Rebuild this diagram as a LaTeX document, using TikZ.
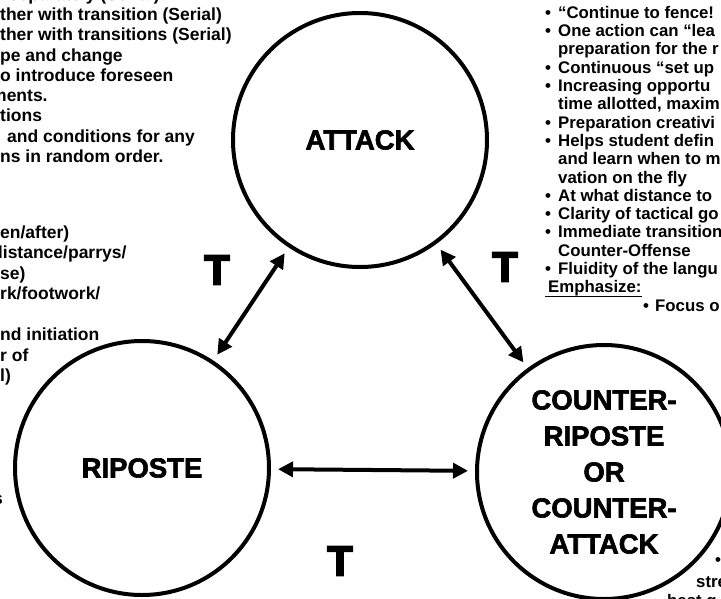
\documentclass[tikz,border=0pt]{standalone}
\usepackage{fontspec}
\setmainfont{Liberation Sans}
\newfontfamily\heavyfont[FakeBold=2.2]{Liberation Sans Bold}
\newfontfamily\tfont[FakeBold=4]{Liberation Sans Bold}
\usetikzlibrary{arrows.meta}
\usetikzlibrary{positioning}
\tikzset{phase node/.style={circle,draw,line width=4pt,minimum size=254pt,inner sep=0pt,align=center,font=\heavyfont\fontsize{27.5}{36}\selectfont}}
\tikzset{trans label/.style={inner sep=0pt,font=\tfont\fontsize{42}{42}\selectfont}}
\tikzset{left note/.style={anchor=base west,inner sep=0pt,font=\bfseries\fontsize{17.5}{20}\selectfont}}
\tikzset{right note/.style={anchor=base west,inner sep=0pt,font=\bfseries\fontsize{16.8}{18}\selectfont}}
\tikzset{link/.style={line width=4pt,{Triangle[length=15pt,width=15pt]}-{Triangle[length=15pt,width=15pt]},shorten <=7pt,shorten >=7pt}}

\begin{document}
\begin{tikzpicture}[x=1pt,y=-1pt]
    \useasboundingbox (0,0) rectangle (721,598);
    \clip (0,0) rectangle (721,598);

    \node[phase node] (attack) at (360,140) {ATTACK};
    \node[phase node] (riposte) at (142,468) {RIPOSTE};
    \node[phase node] (counter) at (604,472) {COUNTER-\\RIPOSTE\\OR\\COUNTER-\\ATTACK};

    \draw[link] (attack) -- (riposte);
    \draw[link] (attack) -- (counter);
    \draw[link] (riposte) -- (counter);

    \node[trans label] (t_{1}) at (217,270) {T};
    \node[trans label] (t_{2}) at (505,267) {T};
    \node[trans label] (t_{3}) at (340,561) {T};

    % left notes, cut off by the page edge
    \node[left note,anchor=base east] (l_{0}) at (160,0) {separately (Serial)};
    \foreach \xx/\yy/\txt [count=\i] in {0/20.5/{ther with transition (Serial)},
        0/40.8/{ther with transitions (Serial)}, 0/61/{pe and change},
        0/81.3/{o introduce foreseen}, -9/101.6/{ments.}, 0/121.9/{tions},
        7/142.2/{and conditions for any}, 0/162.5/{ns in random order.},
        0/238/{en/after)}, -8/258.5/{distance/parrys/}, 0/279/{se)},
        0/299.5/{rk/footwork/}, 0/340.5/{nd initiation}, 0/361/{r of}, 0/381.5/{l)}}
        \node[left note] (l_{\i}) at (\xx,\yy) {\txt};
    \node[left note,anchor=base east] (l_{s}) at (3,504) {s};

    % right notes, cut off by the page edge
    \foreach \yy in {18.3,36.6,73.2,91.5,128.1,146.4,201.3,219.6,237.9,274.5}
        \node[right note] at (545,\yy) {\textbullet};
    \foreach \yy/\txt [count=\i] in {18.3/{“Continue to fence!}, 36.6/{One action can “lea},
        54.9/{preparation for the r}, 73.2/{Continuous “set up}, 91.5/{Increasing opportu},
        109.8/{time allotted, maxim}, 128.1/{Preparation creativi}, 146.4/{Helps student defin},
        164.7/{and learn when to m}, 183/{vation on the fly}, 201.3/{At what distance to},
        219.6/{Clarity of tactical go}, 237.9/{Immediate transition}, 256.2/{Counter-Offense},
        274.5/{Fluidity of the langu}}
        \node[right note] (r_{\i}) at (558,\yy) {\txt};
    \node[right note] (emph) at (548,292.8) {Emphasize:};
    \draw[line width=1.5pt] ([xshift=-3pt,yshift=-3.5pt]emph.base west) -- ([yshift=-3.5pt]emph.base east);
    \node[right note] at (643,311.1) {\textbullet};
    \node[right note] (focus) at (655,311.1) {Focus o};

    \node[right note] at (715,565) {\textbullet};
    \node[right note] (stre) at (696,587) {stre};
    \node[right note] (best) at (667,606) {best g};
\end{tikzpicture}
\end{document}
